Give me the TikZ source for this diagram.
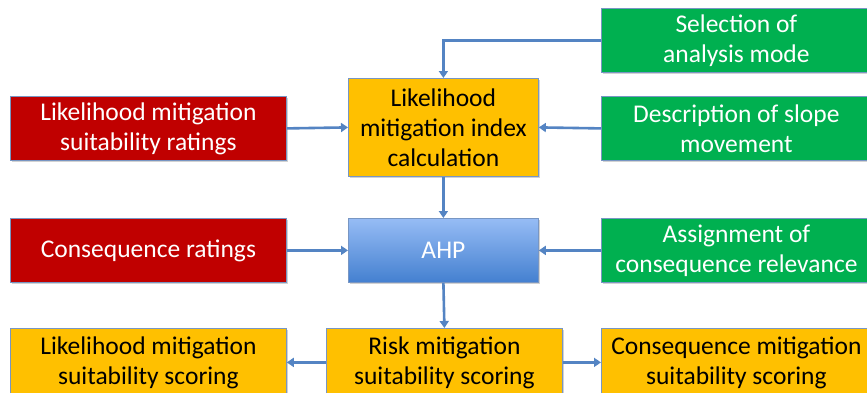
\documentclass[tikz,border=0pt]{standalone}
\usepackage{fontspec}
\setmainfont{Carlito}
\usetikzlibrary{arrows.meta,shadows}

\definecolor{redbox}{RGB}{192,0,0}
\definecolor{greenbox}{RGB}{0,176,80}
\definecolor{yellowbox}{RGB}{255,192,0}
\definecolor{bluetop}{RGB}{150,188,245}
\definecolor{bluebot}{RGB}{68,128,208}
\definecolor{edgeblue}{RGB}{120,150,195}
\definecolor{arrowblue}{RGB}{84,132,195}

\tikzset{
  box/.style={draw=edgeblue, line width=0.8pt, anchor=north west, align=center,
    inner sep=1pt, font=\fontsize{25.5}{30}\selectfont,
    drop shadow={shadow xshift=1.5pt, shadow yshift=-1.5pt, opacity=0.35}},
  redstyle/.style={box, fill=redbox, text=white},
  greenstyle/.style={box, fill=greenbox, text=white},
  yellowstyle/.style={box, fill=yellowbox, text=black},
  bluestyle/.style={box, top color=bluetop, bottom color=bluebot, text=white},
  arr/.style={draw=arrowblue, line width=2.6pt, -{Triangle[length=7pt,width=9pt]}}
}

\begin{document}
\begin{tikzpicture}[x=1pt,y=-1pt]
\clip (0,0) rectangle (867,392);
\fill[white] (0,0) rectangle (867,392);

% top row and inputs
\node[greenstyle, minimum width=270pt, minimum height=64pt] (sel) at (601,8)
  {Selection of\\analysis mode};
\node[redstyle, minimum width=276pt, minimum height=64pt] (lmr) at (10,96)
  {Likelihood mitigation\\suitability ratings};
\node[yellowstyle, minimum width=190pt, minimum height=98pt] (lmi) at (348,78)
  {Likelihood\\mitigation index\\calculation};
\node[greenstyle, minimum width=270pt, minimum height=64pt] (desc) at (601,96)
  {Description of slope\\movement};

% middle row
\node[redstyle, minimum width=276pt, minimum height=64pt] (cr) at (10,218)
  {Consequence ratings};
\node[bluestyle, minimum width=190pt, minimum height=64pt] (ahp) at (348,218)
  {AHP};
\node[greenstyle, minimum width=270pt, minimum height=64pt] (asg) at (601,218)
  {Assignment of\\consequence relevance};

% bottom row
\node[yellowstyle, minimum width=276pt, minimum height=68pt] (lms) at (10,328)
  {Likelihood mitigation\\suitability scoring};
\node[yellowstyle, minimum width=236pt, minimum height=68pt] (risk) at (326,328)
  {Risk mitigation\\suitability scoring};
\node[yellowstyle, minimum width=270pt, minimum height=68pt] (cms) at (601,328)
  {Consequence mitigation\\suitability scoring};

% connectors
\draw[arr] (sel.west) -| (lmi.north);
\draw[arr] (lmr.east) -- (lmi.west);
\draw[arr] (desc.west) -- (lmi.east);
\draw[arr] (lmi.south) -- (ahp.north);
\draw[arr] (cr.east) -- (ahp.west);
\draw[arr] (asg.west) -- (ahp.east);
\draw[arr] (ahp.south) -- (risk.north);
\draw[arr] (risk.west) -- (lms.east);
\draw[arr] (risk.east) -- (cms.west);
\end{tikzpicture}
\end{document}
